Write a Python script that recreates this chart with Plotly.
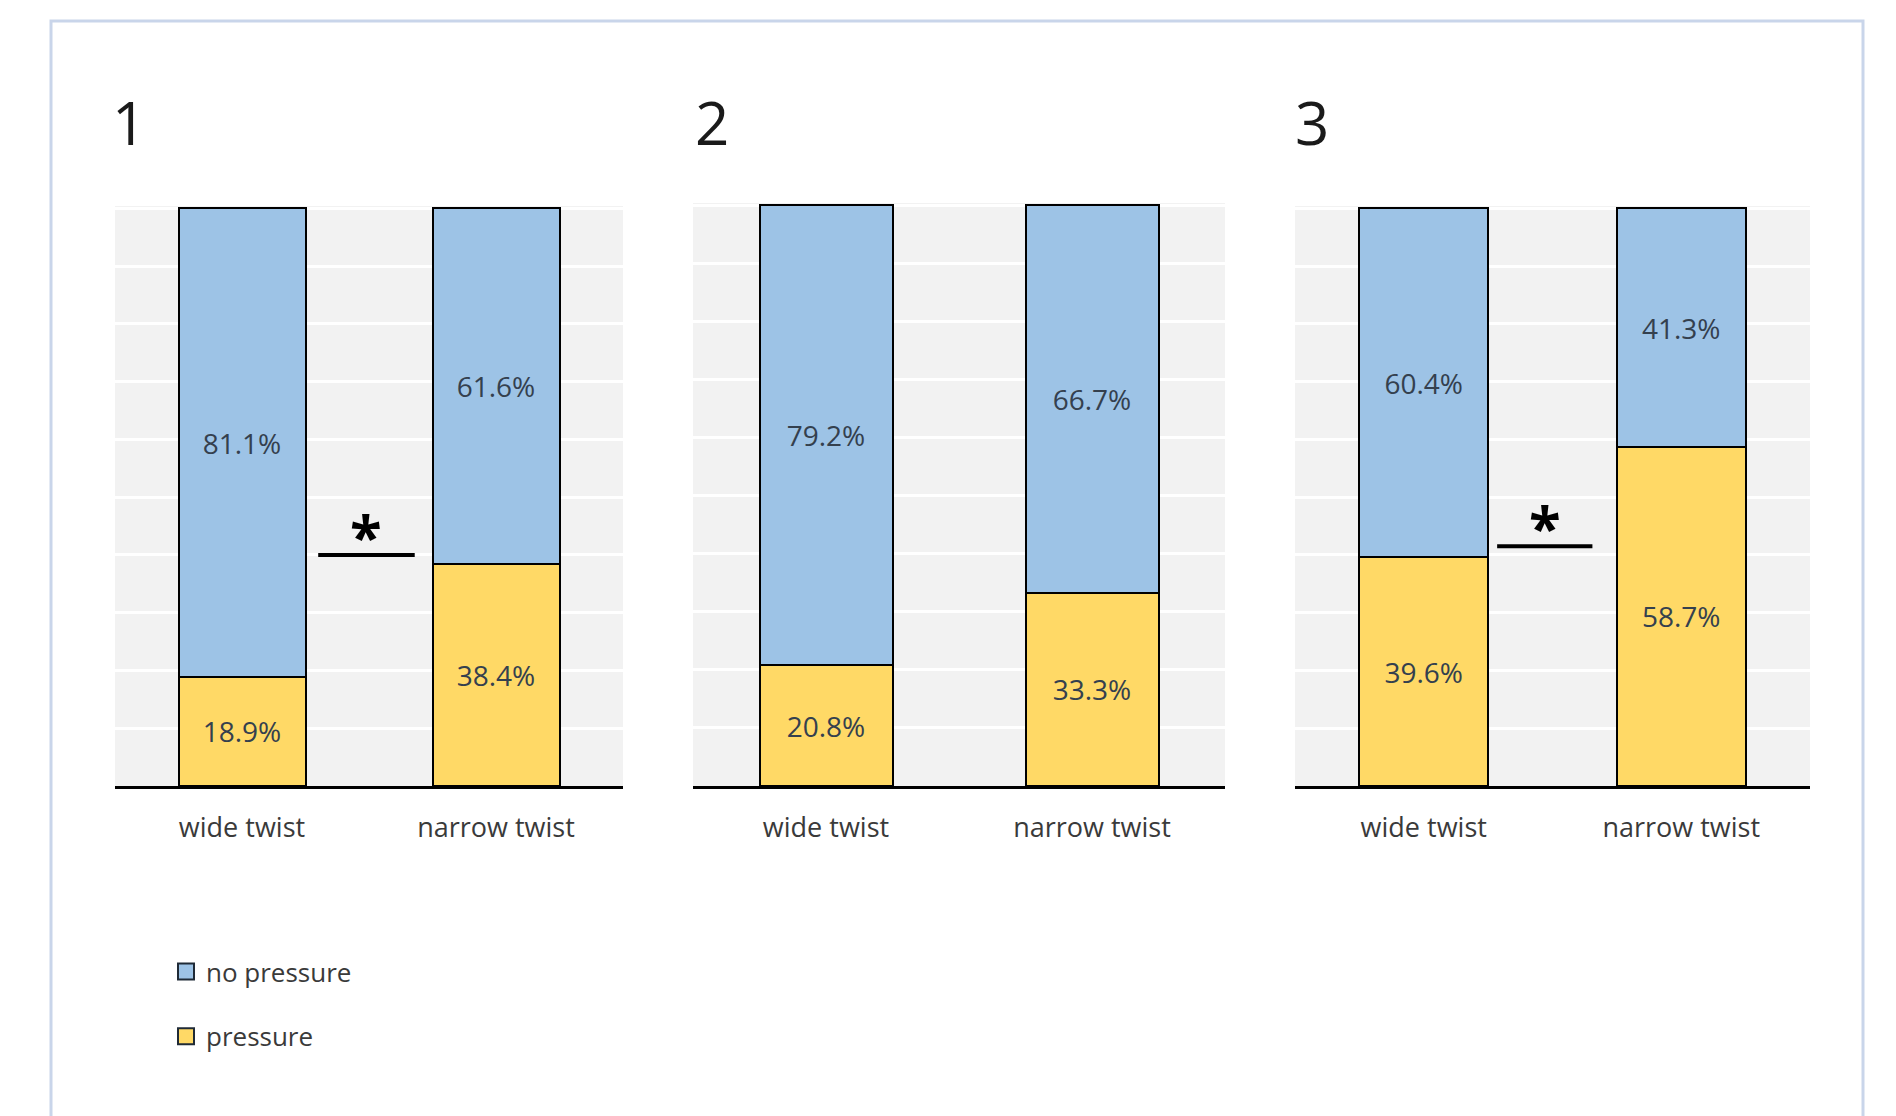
import plotly.graph_objects as go

# Survey results: share of responses with / without pressure per twist type
groups = ["1", "2", "3"]
categories = ["wide twist", "narrow twist"]
no_pressure = {
    "1": [81.1, 61.6],
    "2": [79.2, 66.7],
    "3": [60.4, 41.3],
}
pressure = {
    "1": [18.9, 38.4],
    "2": [20.8, 33.3],
    "3": [39.6, 58.7],
}
# groups with a significant difference between wide and narrow twist:
# (level of the bracket, x start, x end) in axis units
significant = {"1": (40.0, 0.30, 0.68), "2": None, "3": (41.5, 0.285, 0.655)}

BLUE = "#9dc3e6"
YELLOW = "#ffd966"
FONT = "Open Sans"
LABEL_COLOR = "#34404e"

W, H = 1896, 1116

# panel geometry in pixels: (left, right, top, bottom)
panels_px = [(115, 623, 206, 786), (693, 1225, 203, 786), (1295, 1810, 206, 786)]
title_px = [110, 693, 1293]

fig = go.Figure()

for i, g in enumerate(groups):
    ax = "" if i == 0 else str(i + 1)
    xref, yref = "x" + ax, "y" + ax
    fig.add_trace(go.Bar(
        x=categories, y=pressure[g], xaxis=xref, yaxis=yref,
        marker=dict(color=YELLOW, line=dict(color="black", width=2)),
        text=[f"{v:.1f}%" for v in pressure[g]], textposition="inside",
        insidetextanchor="middle", textangle=0,
        textfont=dict(family=FONT, size=28, color=LABEL_COLOR),
        showlegend=False, name="pressure",
    ))
    fig.add_trace(go.Bar(
        x=categories, y=no_pressure[g], xaxis=xref, yaxis=yref,
        marker=dict(color=BLUE, line=dict(color="black", width=2)),
        text=[f"{v:.1f}%" for v in no_pressure[g]], textposition="inside",
        insidetextanchor="middle", textangle=0,
        textfont=dict(family=FONT, size=28, color=LABEL_COLOR),
        showlegend=False, name="no pressure",
    ))

    l, r, t, b = panels_px[i]
    fig.update_layout(**{
        "xaxis" + ax: dict(
            domain=[l / W, r / W], range=[-0.5, 1.5], anchor=yref,
            showline=True, linecolor="black", linewidth=2.5,
            showgrid=False, ticks="", fixedrange=True, ticklabelstandoff=16,
            tickfont=dict(family=FONT, size=27, color="#3a3a3a"),
        ),
        "yaxis" + ax: dict(
            domain=[1 - b / H, 1 - t / H], range=[0, 100.4], anchor=xref,
            dtick=10, showgrid=True, gridcolor="white", gridwidth=3,
            showticklabels=False, zeroline=False, showline=False,
        ),
    })

    # panel number
    fig.add_annotation(
        text=g, xref="paper", yref="paper", x=title_px[i] / W, y=1 - 122 / H,
        xanchor="left", yanchor="middle", showarrow=False,
        font=dict(family=FONT, size=60, color="#1a1a1a"),
    )

    # significance marker between the two bars
    if significant[g] is not None:
        lvl, sx0, sx1 = significant[g]
        fig.add_shape(type="line", xref=xref, yref=yref,
                      x0=sx0, x1=sx1, y0=lvl, y1=lvl,
                      line=dict(color="black", width=4))
        fig.add_annotation(
            text="<b>*</b>", xref=xref, yref=yref, x=(sx0 + sx1) / 2, y=lvl,
            yanchor="bottom", showarrow=False, yshift=-22,
            font=dict(family=FONT, size=58, color="black"),
        )

# legend entries
fig.add_trace(go.Scatter(
    x=[None], y=[None], mode="markers", name="no pressure", legendgroup="a",
    marker=dict(symbol="square", size=16, color=BLUE, line=dict(color="#1f2a36", width=2)),
))
fig.add_trace(go.Scatter(
    x=[None], y=[None], mode="markers", name="pressure", legendgroup="b",
    marker=dict(symbol="square", size=16, color=YELLOW, line=dict(color="#1f2a36", width=2)),
))

# outer frame
fig.add_shape(type="rect", xref="paper", yref="paper",
              x0=51 / W, x1=1863 / W, y0=-0.05, y1=1 - 21 / H,
              line=dict(color="#c9d5ea", width=3), layer="below")

fig.update_layout(
    width=W, height=H, margin=dict(l=0, r=0, t=0, b=0),
    barmode="stack", bargap=0.5,
    paper_bgcolor="white", plot_bgcolor="#f2f2f2",
    legend=dict(
        x=166 / W, y=1 - 948 / H, xanchor="left", yanchor="top",
        orientation="v", tracegroupgap=28, bgcolor="rgba(0,0,0,0)",
        font=dict(family=FONT, size=26, color="#3a3a3a"),
    ),
    font=dict(family=FONT),
)

fig.write_html("out.html")
